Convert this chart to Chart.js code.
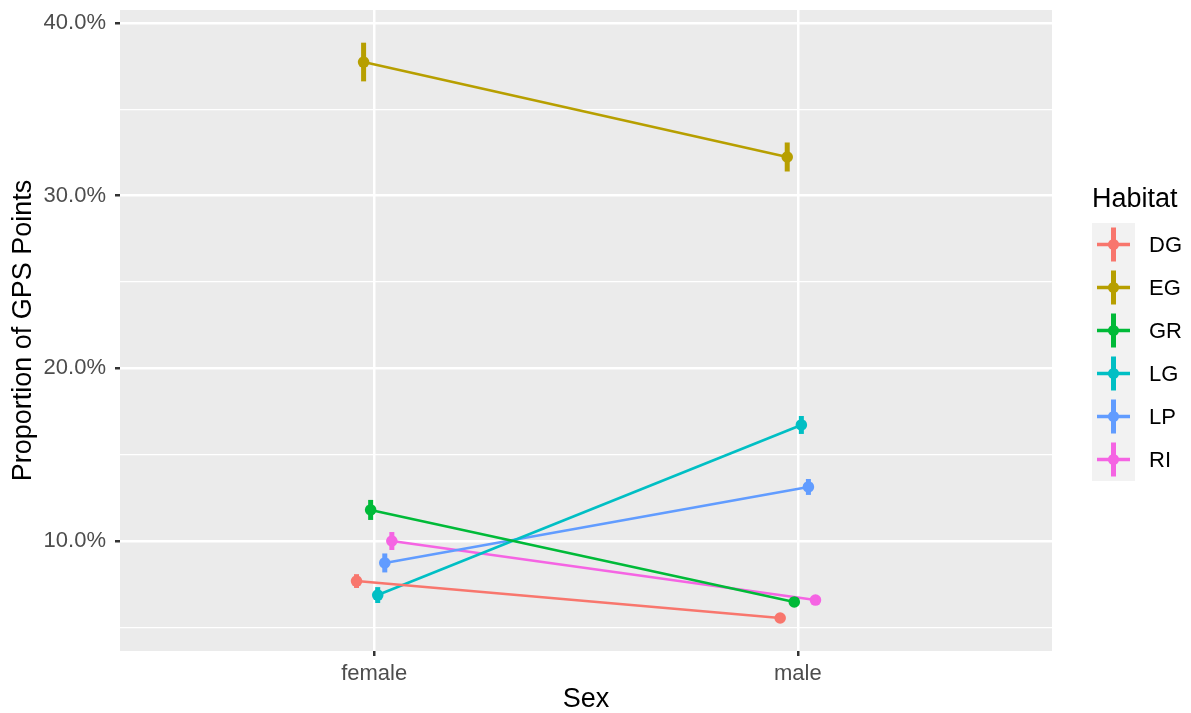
<!DOCTYPE html>
<html>
<head>
<meta charset="utf-8">
<script src="https://cdn.jsdelivr.net/npm/chart.js@4"></script>
<style>
  html, body { margin: 0; padding: 0; background: #ffffff; }
  #chart { display: block; }
</style>
</head>
<body>
<canvas id="chart" width="1191" height="713"></canvas>
<script>
// data (percent of GPS points)
const sexes = ["female", "male"];
const habitats = ["DG", "EG", "GR", "LG", "LP", "RI"];
const femaleMean = [7.68, 37.74, 11.8, 6.87, 8.73, 10.0];
const maleMean = [5.54, 32.24, 6.47, 16.72, 13.13, 6.58];
const femaleErr = [0.4, 1.12, 0.58, 0.46, 0.55, 0.52];
const maleErr = [0.22, 0.84, 0.25, 0.52, 0.46, 0.25];
const yMajorTicks = [10, 20, 30, 40];
const yMinorTicks = [5, 15, 25, 35];

const colors = ["#F8766D", "#B79F00", "#00BA38", "#00BFC4", "#619CFF", "#F564E3"];
const FONT = "'Liberation Sans', Arial, Helvetica, sans-serif";
const dodgeWidth = 0.1;

function dodge(i) {
  return (i - (habitats.length - 1) / 2) * dodgeWidth / habitats.length;
}

const datasets = habitats.map(function (h, i) {
  return {
    label: h,
    data: [
      { x: 1 + dodge(i), y: femaleMean[i], err: femaleErr[i] },
      { x: 2 + dodge(i), y: maleMean[i], err: maleErr[i] },
    ],
    borderColor: colors[i],
    backgroundColor: colors[i],
    borderWidth: 2.6,
    pointRadius: 5.8,
    pointHoverRadius: 5.8,
    pointBorderWidth: 0,
    pointBackgroundColor: colors[i],
    tension: 0,
  };
});

// grey panel behind the plot
const panelBg = {
  id: "panelBg",
  beforeDraw(chart) {
    const a = chart.chartArea;
    const ctx = chart.ctx;
    ctx.save();
    ctx.fillStyle = "#EBEBEB";
    ctx.fillRect(a.left, a.top, a.right - a.left, a.bottom - a.top);
    ctx.restore();
  },
};

// vertical ranges for each point
const errorBars = {
  id: "errorBars",
  afterDatasetsDraw(chart) {
    const ctx = chart.ctx;
    const xs = chart.scales.x;
    const ys = chart.scales.y;
    ctx.save();
    ctx.lineWidth = 5;
    ctx.lineCap = "butt";
    chart.data.datasets.forEach(function (ds) {
      ctx.strokeStyle = ds.borderColor;
      ds.data.forEach(function (p) {
        const px = xs.getPixelForValue(p.x);
        ctx.beginPath();
        ctx.moveTo(px, ys.getPixelForValue(p.y - p.err));
        ctx.lineTo(px, ys.getPixelForValue(p.y + p.err));
        ctx.stroke();
      });
    });
    ctx.restore();
  },
};

// ggplot style legend on the right
const habitatLegend = {
  id: "habitatLegend",
  afterDraw(chart) {
    const ctx = chart.ctx;
    const left = 1092, top = 223, key = 43;
    ctx.save();
    ctx.fillStyle = "#000000";
    ctx.font = "27px " + FONT;
    ctx.textBaseline = "alphabetic";
    ctx.textAlign = "left";
    ctx.fillText("Habitat", left, 207);

    ctx.fillStyle = "#F2F2F2";
    ctx.fillRect(left, top, key, key * habitats.length);

    habitats.forEach(function (h, i) {
      const cx = left + key / 2;
      const cy = top + key * i + key / 2;
      ctx.strokeStyle = colors[i];
      ctx.lineWidth = 3.5;
      ctx.beginPath();
      ctx.moveTo(left + 5, cy);
      ctx.lineTo(left + key - 5, cy);
      ctx.stroke();
      ctx.lineWidth = 5;
      ctx.beginPath();
      ctx.moveTo(cx, cy - 17);
      ctx.lineTo(cx, cy + 17);
      ctx.stroke();
      ctx.fillStyle = colors[i];
      ctx.beginPath();
      ctx.arc(cx, cy, 5.5, 0, Math.PI * 2);
      ctx.fill();

      ctx.fillStyle = "#000000";
      ctx.font = "22px " + FONT;
      ctx.textBaseline = "middle";
      ctx.fillText(h, 1149, cy + 1);
    });
    ctx.restore();
  },
};

new Chart(document.getElementById("chart"), {
  type: "line",
  data: { datasets: datasets },
  plugins: [panelBg, errorBars, habitatLegend],
  options: {
    responsive: false,
    animation: false,
    devicePixelRatio: 1,
    layout: { padding: { top: 10, right: 139, left: 0, bottom: 0 } },
    plugins: {
      legend: { display: false },
      tooltip: { enabled: false },
    },
    scales: {
      x: {
        type: "linear",
        min: 0.4,
        max: 2.6,
        afterBuildTicks: function (scale) {
          scale.ticks = sexes.map(function (s, i) { return { value: i + 1 }; });
        },
        afterFit: function (scale) {
          scale.height = 62;
          scale.paddingLeft = 0;
          scale.paddingRight = 0;
        },
        ticks: {
          callback: function (value) { return sexes[value - 1]; },
          color: "#4D4D4D",
          font: { family: FONT, size: 22 },
          padding: 5,
          maxRotation: 0,
        },
        grid: {
          color: "#FFFFFF",
          lineWidth: 2.5,
          tickColor: "#333333",
          tickWidth: 2.5,
          tickLength: 5,
        },
        border: { display: false },
        title: {
          display: true,
          text: "Sex",
          color: "#000000",
          font: { family: FONT, size: 27, lineHeight: 1 },
          padding: { top: 0, bottom: 0 },
        },
      },
      y: {
        type: "linear",
        min: 3.63,
        max: 40.753,
        afterBuildTicks: function (scale) {
          scale.ticks = yMinorTicks.concat(yMajorTicks)
            .sort(function (a, b) { return a - b; })
            .map(function (v) { return { value: v }; });
        },
        afterFit: function (scale) {
          scale.width = 120;
          scale.paddingTop = 0;
          scale.paddingBottom = 0;
        },
        ticks: {
          callback: function (value) {
            return yMajorTicks.indexOf(value) >= 0 ? value.toFixed(1) + "%" : "";
          },
          color: "#4D4D4D",
          font: { family: FONT, size: 22 },
          padding: 9,
        },
        grid: {
          color: "#FFFFFF",
          lineWidth: function (c) {
            return yMajorTicks.indexOf(c.tick && c.tick.value) >= 0 ? 2.5 : 1.3;
          },
          tickColor: function (c) {
            return yMajorTicks.indexOf(c.tick && c.tick.value) >= 0 ? "#333333" : "rgba(0,0,0,0)";
          },
          tickWidth: 2.5,
          tickLength: 5,
        },
        border: { display: false },
        title: {
          display: true,
          text: "Proportion of GPS Points",
          color: "#000000",
          font: { family: FONT, size: 27, lineHeight: 1 },
          padding: { top: 10, bottom: 0 },
        },
      },
    },
  },
});
</script>
</body>
</html>
